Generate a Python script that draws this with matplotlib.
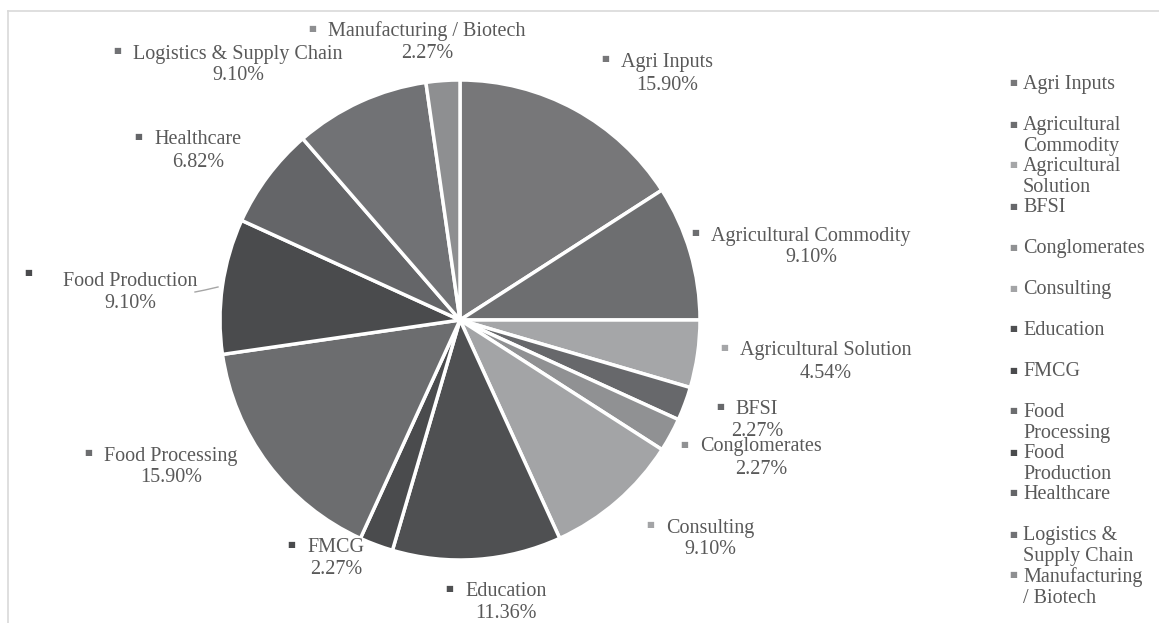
import matplotlib
matplotlib.use("Agg")
import matplotlib.pyplot as plt
from matplotlib.lines import Line2D

categories = ["Agri Inputs", "Agricultural Commodity", "Agricultural Solution", "BFSI",
              "Conglomerates", "Consulting", "Education", "FMCG", "Food Processing",
              "Food Production", "Healthcare", "Logistics & Supply Chain",
              "Manufacturing / Biotech"]
shares = [15.90, 9.10, 4.54, 2.27, 2.27, 9.10, 11.36, 2.27, 15.90, 9.10, 6.82, 9.10, 2.27]
legend_labels = ["Agri Inputs", "Agricultural\nCommodity", "Agricultural\nSolution", "BFSI",
                 "Conglomerates", "Consulting", "Education", "FMCG", "Food\nProcessing",
                 "Food\nProduction", "Healthcare", "Logistics &\nSupply Chain",
                 "Manufacturing\n/ Biotech"]
colors = ["#777779", "#6d6e70", "#a5a6a8", "#67686b", "#909193", "#a3a4a6", "#4f5052",
          "#4a4b4d", "#6c6d6f", "#4a4b4d", "#646568", "#717275", "#8e8f91"]

W, H = 1159, 623
FONT = ["Liberation Serif", "DejaVu Sans"]
TXT = "#595959"

fig = plt.figure(figsize=(W / 100, H / 100), dpi=100)
fig.patch.set_facecolor("white")


def fx(x):
    return x / W


def fy(y):
    return 1 - y / H


# frame
fig.add_artist(Line2D([fx(8), fx(W)], [fy(11), fy(11)], color="#d9d9d9", lw=1.2))
fig.add_artist(Line2D([fx(8), fx(8)], [fy(11), fy(H)], color="#d9d9d9", lw=1.2))

# pie
cx, cy, R = 460, 320, 240
ax = fig.add_axes([fx(cx - R), fy(cy + R), 2 * R / W, 2 * R / H])
ax.pie(shares, colors=colors, startangle=90, counterclock=False,
       wedgeprops=dict(edgecolor="white", linewidth=2.5))
ax.set_xlim(-1, 1)
ax.set_ylim(-1, 1)
ax.set_aspect("auto")
ax.axis("off")

# data label layout: (name centre x, line1 y, line2 y)
label_pos = [(667, 62, 85), (811, 236, 258), (826, 351, 373), (757, 410, 432),
             (761, 447, 470), (710, 528, 550), (506, 591, 613), (336, 548, 570),
             (171, 456, 478), (130, 281, 303), (198, 140, 162), (238, 54, 76),
             (427, 31, 53)]
FS = 14.5
name_texts = []
for name, val, (x, y1, y2) in zip(categories, shares, label_pos):
    t = fig.text(fx(x), fy(y1), name, ha="center", va="center", fontsize=FS,
                 family=FONT, color=TXT)
    fig.text(fx(x), fy(y2), f"{val:.2f}%", ha="center", va="center", fontsize=FS,
             family=FONT, color=TXT)
    name_texts.append(t)

fig.canvas.draw()
rend = fig.canvas.get_renderer()
for i, t in enumerate(name_texts):
    bb = t.get_window_extent(rend)
    _, y1, _ = label_pos[i]
    if categories[i] == "Food Production":
        mx, my = 28, 272
    else:
        mx, my = bb.x0 - 16, y1 - 3
    fig.text(fx(mx), fy(my), "\u25a0", ha="center", va="center", fontsize=6,
             family="DejaVu Sans", color=colors[i])

# leader line for Food Production
fig.add_artist(Line2D([fx(195), fx(205), fx(218)], [fy(292), fy(290), fy(287)],
                      color="#a6a6a6", lw=1))

# legend
LFS = 14.5
for i, (lab, c) in enumerate(zip(legend_labels, colors)):
    y = 85 + 41 * i
    fig.text(fx(1013), fy(y - 2), "\u25a0", ha="center", va="center", fontsize=6,
             family="DejaVu Sans", color=c)
    fig.text(fx(1023), fy(y - 10), lab, ha="left", va="top", fontsize=LFS,
             family=FONT, color=TXT, linespacing=1.12)

fig.savefig("out.png", dpi=100, facecolor="white")
